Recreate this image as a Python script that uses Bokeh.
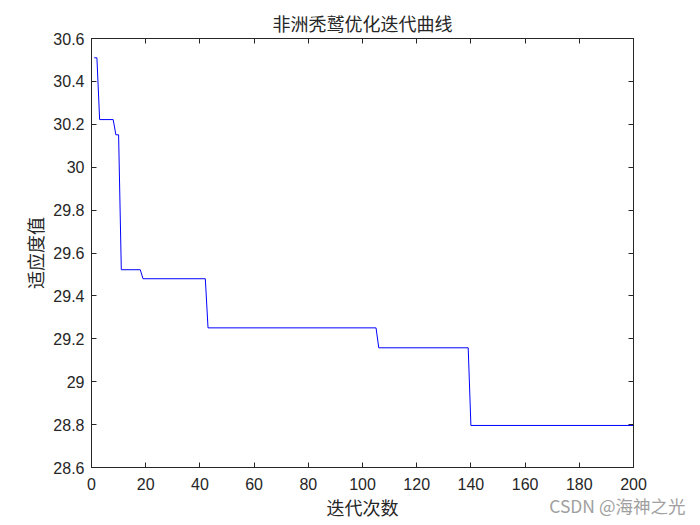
from bokeh.plotting import figure
from bokeh.models import LinearAxis, FixedTicker, Title
from bokeh.embed import file_html
from bokeh.resources import INLINE

# Data: vertices of the step-shaped convergence curve (iteration, fitness)
iters = [1, 2, 3, 8, 9, 10, 11, 18, 19, 42, 43, 105, 106, 139, 140, 200]
fitness = [30.51, 30.51, 30.222, 30.222, 30.151, 30.151, 29.522, 29.522,
           29.480, 29.480, 29.251, 29.251, 29.158, 29.158, 28.796, 28.796]

x_ticks = [0, 20, 40, 60, 80, 100, 120, 140, 160, 180, 200]
y_ticks = [28.6, 28.8, 29.0, 29.2, 29.4, 29.6, 29.8, 30.0, 30.2, 30.4, 30.6]
y_tick_labels = ["28.6", "28.8", "29", "29.2", "29.4", "29.6", "29.8", "30", "30.2", "30.4", "30.6"]

title_text = "非洲秃鹫优化迭代曲线"
x_label = "迭代次数"
y_label = "适应度值"
watermark = "CSDN @海神之光"

CJK = "Noto Sans CJK SC"
NUM = "Liberation Sans"
AX = "#262626"

p = figure(width=700, height=525, x_range=(0, 200), y_range=(28.6, 30.6),
           output_backend="svg", toolbar_location=None,
           min_border_left=91, min_border_right=67, min_border_top=38, min_border_bottom=58)
p.title = Title(text=title_text, text_font=CJK, text_font_size="18px",
                text_font_style="normal", align="center", text_color=AX, standoff=5)
p.background_fill_color = "white"
p.border_fill_color = "white"
p.outline_line_color = AX
p.outline_line_width = 1
p.xgrid.visible = False
p.ygrid.visible = False

p.line(iters, fitness, line_color="#0000FF", line_width=1)

for ax in p.xaxis:
    ax.ticker = FixedTicker(ticks=x_ticks)
    ax.axis_label = x_label
    ax.axis_label_text_font = CJK
    ax.axis_label_text_font_size = "18px"
    ax.axis_label_text_font_style = "normal"
    ax.axis_label_text_color = AX
    ax.axis_label_standoff = 1
    ax.major_label_text_font = NUM
    ax.major_label_text_font_size = "16px"
    ax.major_label_text_color = AX
    ax.major_label_standoff = 10
    ax.major_tick_in = 5
    ax.major_tick_out = 0
    ax.minor_tick_line_color = None
    ax.axis_line_color = AX
    ax.major_tick_line_color = AX

for ax in p.yaxis:
    ax.ticker = FixedTicker(ticks=y_ticks)
    ax.major_label_overrides = {t: s for t, s in zip(y_ticks, y_tick_labels)}
    ax.axis_label = y_label
    ax.axis_label_text_font = CJK
    ax.axis_label_text_font_size = "18px"
    ax.axis_label_text_font_style = "normal"
    ax.axis_label_text_color = AX
    ax.axis_label_standoff = 2
    ax.major_label_text_font = NUM
    ax.major_label_text_font_size = "16px"
    ax.major_label_text_color = AX
    ax.major_label_standoff = 7
    ax.major_tick_in = 5
    ax.major_tick_out = 0
    ax.minor_tick_line_color = None
    ax.axis_line_color = AX
    ax.major_tick_line_color = AX

top = LinearAxis(ticker=FixedTicker(ticks=x_ticks),
                 major_label_overrides={t: "" for t in x_ticks},
                 major_tick_in=5, major_tick_out=0, minor_tick_line_color=None,
                 axis_line_color=AX, major_tick_line_color=AX, major_label_standoff=0)
right = LinearAxis(ticker=FixedTicker(ticks=y_ticks),
                   major_label_overrides={t: "" for t in y_ticks},
                   major_tick_in=5, major_tick_out=0, minor_tick_line_color=None,
                   axis_line_color=AX, major_tick_line_color=AX, major_label_standoff=0)
p.add_layout(top, "above")
p.add_layout(right, "right")

wm = Title(text=watermark, text_font=CJK, text_font_size="17.5px", text_font_style="normal",
           text_color="#a0a0a0", align="right", vertical_align="top",
           offset=-52, standoff=-60)
p.add_layout(wm, "below")

open("out.html", "w").write(file_html(p, INLINE))
